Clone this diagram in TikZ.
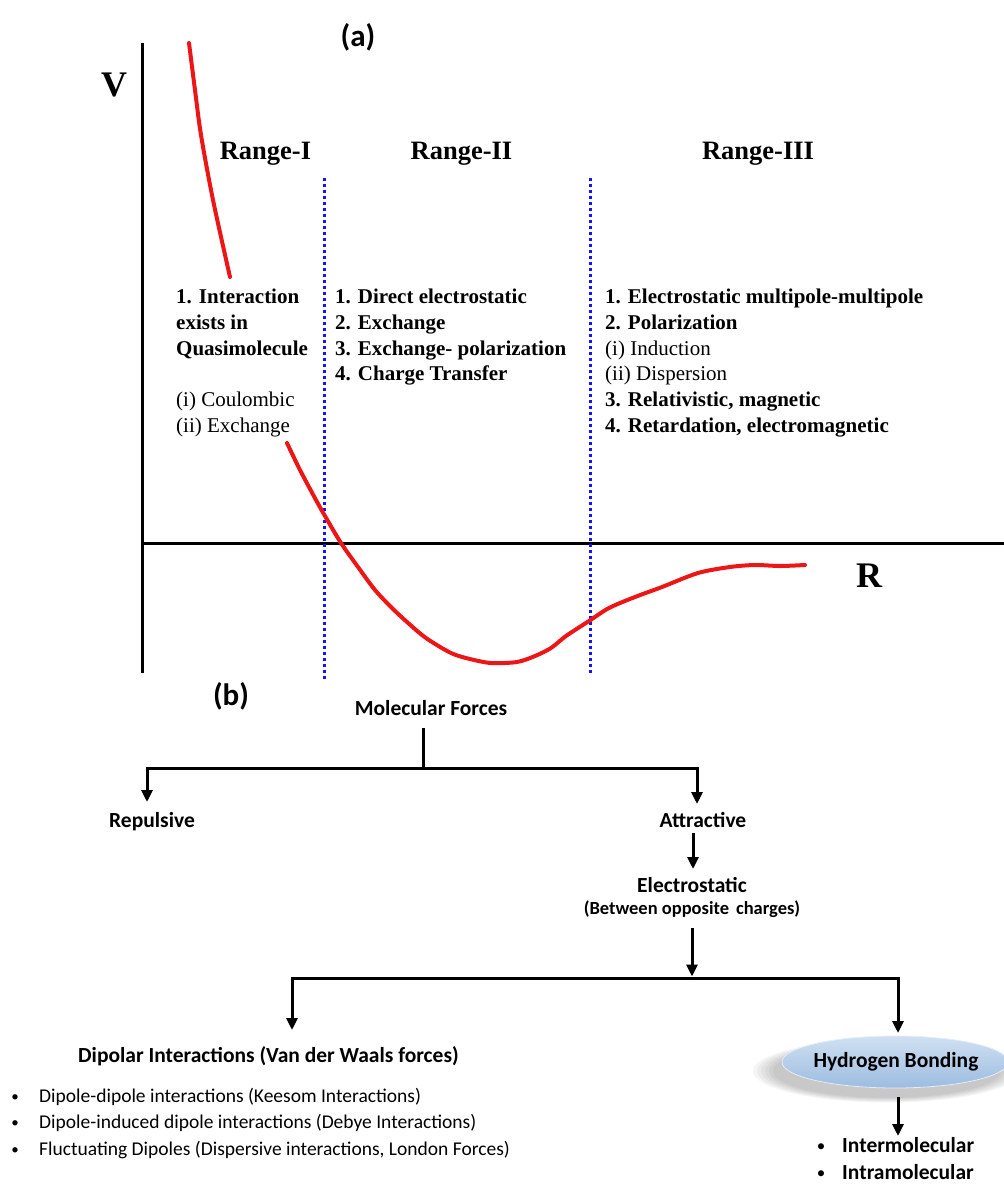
\documentclass[tikz,border=0pt]{standalone}
\usepackage{fontspec}
\setmainfont{Liberation Serif}
\newfontfamily\calfont{Carlito}
\usetikzlibrary{arrows.meta,shapes.geometric}
\definecolor{redc}{RGB}{236,22,22}
\definecolor{bluedot}{RGB}{20,20,250}
\definecolor{hbtop}{RGB}{208,224,242}
\definecolor{hbbot}{RGB}{156,188,224}
\begin{document}
\begin{tikzpicture}[x=1pt,y=-1pt,
  ax/.style={line width=3pt, black},
  dotl/.style={line width=3pt, bluedot, dash pattern=on 3pt off 3pt},
  curve/.style={line width=4pt, redc, line cap=round, line join=round},
  rng/.style={font=\fontsize{26.5}{30}\selectfont\bfseries, inner sep=0, anchor=base},
  big/.style={font=\fontsize{36}{40}\selectfont\bfseries, inner sep=0, anchor=base},
  sb/.style={font=\fontsize{21}{24}\selectfont\bfseries, anchor=base west, inner sep=0},
  sr/.style={font=\fontsize{21}{24}\selectfont, anchor=base west, inner sep=0},
  lab/.style={font=\calfont\fontsize{21.5}{25}\selectfont\bfseries, inner sep=0, anchor=base},
  small/.style={font=\calfont\fontsize{18.5}{22}\selectfont\bfseries, inner sep=0, anchor=base},
  bul/.style={font=\calfont\fontsize{19.5}{23}\selectfont, inner sep=0, anchor=base west},
  dot/.style={font=\calfont\fontsize{15}{18}\selectfont, inner sep=0, anchor=base},
  tl/.style={line width=3pt, line join=miter},
  arr/.style={line width=3pt, line join=miter, -{Triangle[width=11pt,length=12pt]}},
]
\useasboundingbox (0,0) rectangle (1004,1184);

% ---------- (a) potential curve ----------
\node[font=\calfont\fontsize{31}{34}\selectfont\bfseries, inner sep=0] (la) at (358,37) {(a)};
\node[big] (V) at (114,96) {V};
\node[big] (R) at (869,587) {R};

\coordinate (vtop) at (142,43);
\coordinate (vbot) at (142,673);
\coordinate (horl) at (142,543);
\coordinate (horr) at (1004,543);
\draw[ax] (vtop) -- (vbot);
\draw[ax] (horl) -- (horr);

\coordinate (d1t) at (324,178);
\coordinate (d1b) at (324,679);
\coordinate (d2t) at (590,178);
\coordinate (d2b) at (590,675);
\draw[dotl] (d1t) -- (d1b);
\draw[dotl] (d2t) -- (d2b);

\draw[curve] plot[smooth, tension=0.5] coordinates {(189,43) (195,90) (201,135) (213,200) (230,277)};
\draw[curve] plot[smooth, tension=0.5] coordinates {(287,443) (300,470) (316,500) (325,516) (341,543) (358,567) (375,590) (392,608) (407,622) (426,638) (451,653) (470,659) (491,663) (517,662) (535,656) (551,648) (566,636) (589,621) (609,608) (635,597) (662,587) (698,573) (730,567) (755,565) (780,566) (805,565)};

\node[rng] (r1) at (265.5,159) {Range-I};
\node[rng] (r2) at (461.5,159) {Range-II};
\node[rng] (r3) at (758,159) {Range-III};

% column 1
\node[sb] (c1a) at (176,303) {1. Interaction};
\node[sb] (c1b) at (176,329) {exists in};
\node[sb] (c1c) at (176,355) {Quasimolecule};
\node[sr] (c1d) at (176,406) {(i) Coulombic};
\node[sr] (c1e) at (176,432) {(ii) Exchange};
% column 2
\node[sb] (c2a) at (335,303) {1. Direct electrostatic};
\node[sb] (c2b) at (335,329) {2. Exchange};
\node[sb] (c2c) at (335,355) {3. Exchange- polarization};
\node[sb] (c2d) at (335,380) {4. Charge Transfer};
% column 3
\node[sb] (c3a) at (605,303) {1. Electrostatic multipole-multipole};
\node[sb] (c3b) at (605,329) {2. Polarization};
\node[sr] (c3c) at (605,355) {(i) Induction};
\node[sr] (c3d) at (605,380) {(ii) Dispersion};
\node[sb] (c3e) at (605,406) {3. Relativistic, magnetic};
\node[sb] (c3f) at (605,432) {4. Retardation, electromagnetic};

% ---------- (b) tree ----------
\node[font=\calfont\fontsize{31}{34}\selectfont\bfseries, inner sep=0] (lb) at (231,696) {(b)};

\node[lab] (mf) at (431,715) {Molecular Forces};
\node[lab] (rep) at (152,827) {Repulsive};
\node[lab] (att) at (703,827) {Attractive};
\node[lab] (ele) at (692,892) {Electrostatic};
\node[small] (btw) at (692,914) {(Between opposite\hspace{0.15em} charges)};
\node[lab, anchor=base west] (dip) at (78,1062) {Dipolar Interactions (Van der Waals forces)};

\coordinate (mfs) at (423,728);
\coordinate (b1) at (423,768);
\coordinate (repn) at (147,802);
\coordinate (attn) at (697,804);
\draw[tl] (mfs) -- (b1);
\draw[arr] (b1) -| (repn);
\draw[arr] (b1) -| (attn);

\coordinate (atts) at (693,833);
\coordinate (elen) at (693,869);
\draw[arr] (atts) -- (elen);

\coordinate (btws) at (692,928);
\coordinate (b2) at (692,978);
\draw[arr] (btws) -- ([yshift=1.5pt]b2);
\coordinate (dipn) at (292,1030);
\coordinate (hbn) at (898,1033);
\draw[arr] (b2) -| (dipn);
\draw[arr] (b2) -| (hbn);

% bullets left
\node[dot] (bu1d) at (15,1101) {\textbullet};
\node[bul] (bu1) at (39,1102) {Dipole-dipole interactions (Keesom Interactions)};
\node[dot] (bu2d) at (15,1127) {\textbullet};
\node[bul] (bu2) at (39,1128) {Dipole-induced dipole interactions (Debye Interactions)};
\node[dot] (bu3d) at (15,1154) {\textbullet};
\node[bul] (bu3) at (39,1155) {Fluctuating Dipoles (Dispersive interactions, London Forces)};

% Hydrogen bonding ellipse with soft shadow
\foreach \s in {134, 130, 126, 122, 118, 114}{
  \fill[black, opacity=0.04] (887,1071) ellipse [x radius=\s, y radius={\s*0.235}];
}
\node[ellipse, minimum width=226, minimum height=52, inner sep=0,
      top color=hbtop, bottom color=hbbot, draw=hbtop!60!white, line width=0.8pt] (hb) at (895,1062) {};
\node[lab] (hbt) at (896,1067) {Hydrogen Bonding};

\coordinate (hbs) at (898,1097);
\coordinate (hbe) at (898,1136);
\draw[arr] (hbs) -- (hbe);

\node[dot, font=\calfont\fontsize{17}{20}\selectfont] (in1d) at (821,1151) {\textbullet};
\node[lab, anchor=base west] (in1) at (842,1152) {Intermolecular};
\node[dot, font=\calfont\fontsize{17}{20}\selectfont] (in2d) at (821,1178) {\textbullet};
\node[lab, anchor=base west] (in2) at (842,1179) {Intramolecular};
\end{tikzpicture}
\end{document}
